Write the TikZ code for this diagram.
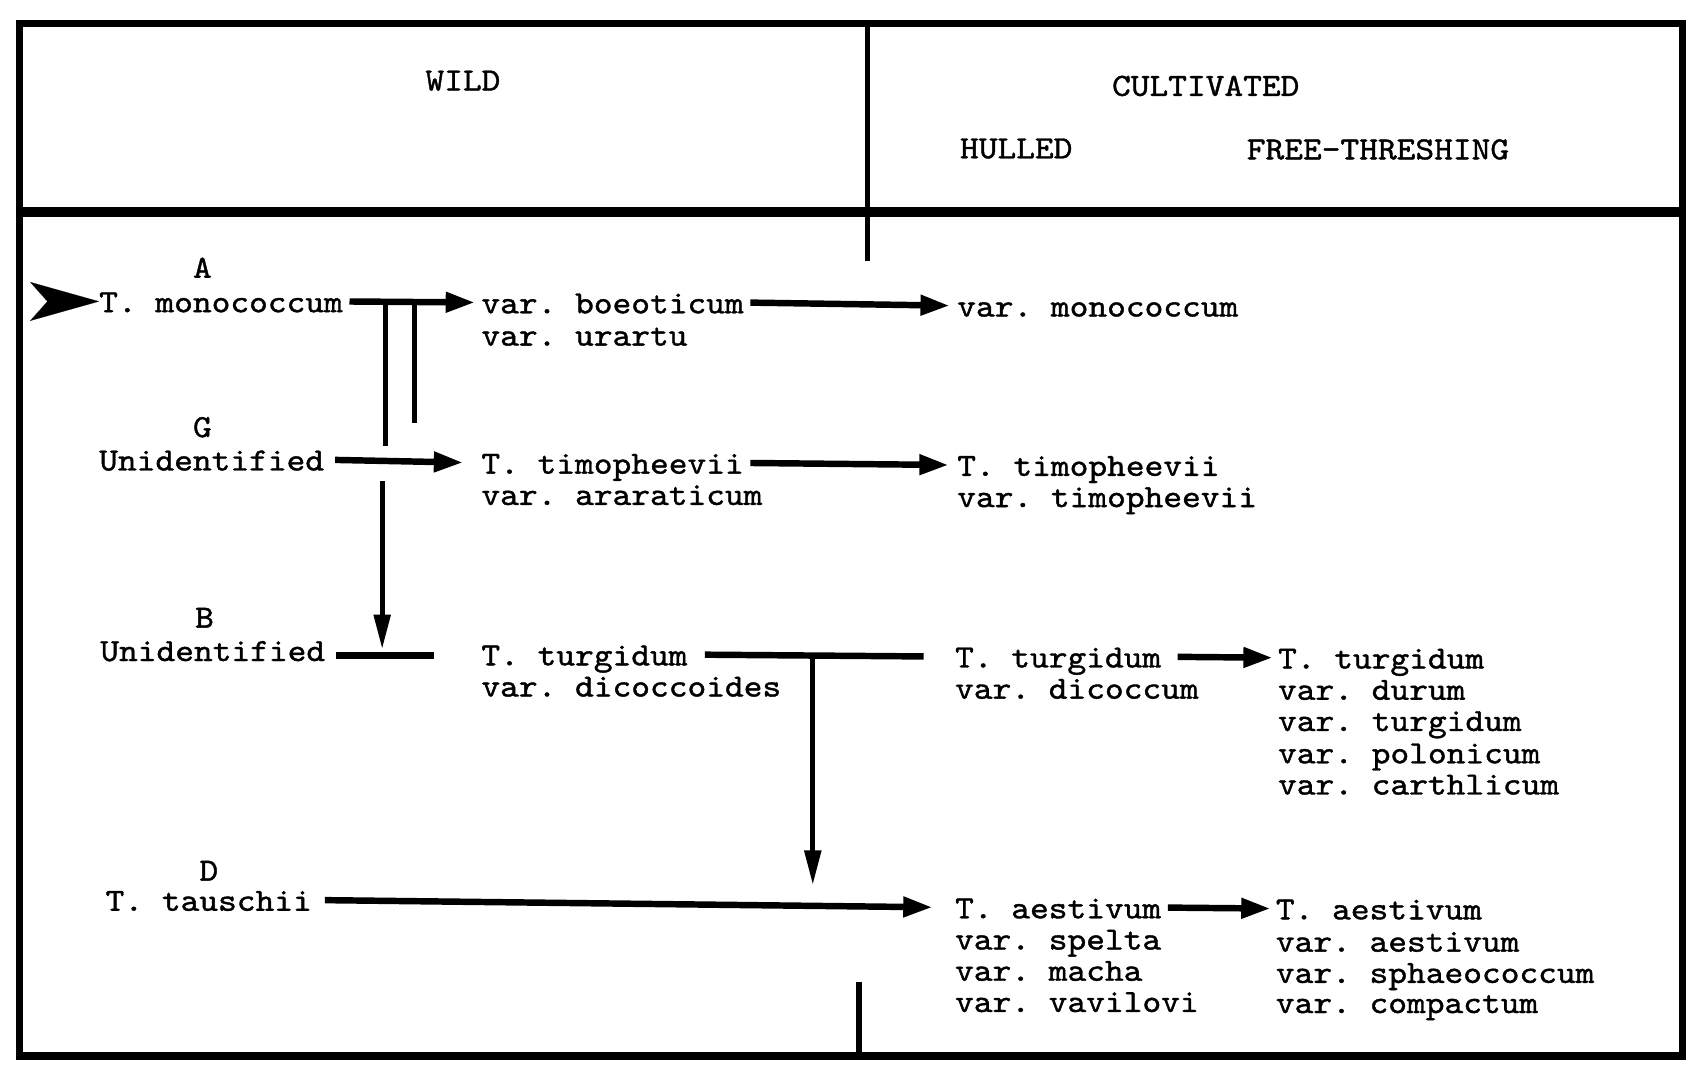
\documentclass[tikz,border=0pt]{standalone}
\usepackage{fontspec}
\usetikzlibrary{arrows.meta}
% typewriter face used for every label
\newfontfamily\twfont{lmmono10-regular.otf}[FakeStretch=1.105,FakeBold=1.2]
\begin{document}
\frenchspacing
\begin{tikzpicture}[x=1pt,y=-1pt,
  tx/.style={font=\twfont\fontsize{30pt}{30pt}\selectfont\frenchspacing, inner sep=0pt,
             text height=20pt, text depth=0pt, anchor=west},
  hd/.style={tx, anchor=center},
  frameline/.style={line width=7pt, line cap=rect},
  divider/.style={line width=5pt},
  arr/.style={line width=6pt, -{Triangle[length=27pt,width=18pt]}},
  bar/.style={line width=6pt},
  hang/.style={line width=5pt},
  varr/.style={line width=4.5pt, -{Triangle[length=32pt,width=15pt]}},
  bigtip/.style={line width=0.1pt, -{Stealth[length=64pt,width=36pt,inset=16pt]}},
]
\useasboundingbox (0,0) rectangle (1568,989);

% ---- table frame ----
\coordinate (tl) at (18,22);
\coordinate (tr) at (1563,22);
\coordinate (bl) at (18,981);
\coordinate (br) at (1563,981);
\draw[frameline] (tl) -- (tr) -- (br) -- (bl) -- cycle;
\draw[line width=9pt] (18,197) -- (1563,197);
\draw[divider] (806,22) -- (806,242);
\draw[divider] (798,912) -- (798,981);

% ---- column headings ----
\node[hd] (wild) at (430,74) {WILD};
\node[hd] (cult) at (1120,79) {CULTIVATED};
\node[hd] (hulled) at (944,137) {HULLED};
\node[hd] (free) at (1280,138) {FREE-THRESHING};

% ---- genome A ----
\node[hd] (gA) at (188,248) {A};
\node[tx] (mono) at (92,280) {T. monococcum};
\node[tx] (boeo) at (447,281) {var. boeoticum};
\node[tx] (urar) at (447,311) {var. urartu};
\node[tx] (monoc) at (889,284) {var. monococcum};

% ---- genome G ----
\node[hd] (gG) at (188,396) {G};
\node[tx] (unidG) at (92,427) {Unidentified};
\node[tx] (timo) at (447,430) {T. timopheevii};
\node[tx] (arar) at (447,459) {var. araraticum};
\node[tx] (timoC) at (889,432) {T. timopheevii};
\node[tx] (timoV) at (889,461) {var. timopheevii};

% ---- genome B ----
\node[hd] (gB) at (190,573) {B};
\node[tx] (unidB) at (93,604) {Unidentified};
\node[tx] (turg) at (447,608) {T. turgidum};
\node[tx] (dicoides) at (447,637) {var. dicoccoides};
\node[tx] (turgC) at (887,610) {T. turgidum};
\node[tx] (dicoccum) at (887,639) {var. dicoccum};
\node[tx] (turgF) at (1187,611) {T. turgidum};
\node[tx] (durum) at (1187,640) {var. durum};
\node[tx] (turgV) at (1187,669) {var. turgidum};
\node[tx] (polon) at (1187,699) {var. polonicum};
\node[tx] (carth) at (1187,728) {var. carthlicum};

% ---- genome D ----
\node[hd] (gD) at (194,808) {D};
\node[tx] (tausch) at (98,836) {T. tauschii};
\node[tx] (aest) at (887,843) {T. aestivum};
\node[tx] (spelta) at (887,872) {var. spelta};
\node[tx] (macha) at (887,901) {var. macha};
\node[tx] (vavil) at (887,930) {var. vavilovi};
\node[tx] (aestF) at (1185,844) {T. aestivum};
\node[tx] (aestV) at (1185,874) {var. aestivum};
\node[tx] (sphaero) at (1185,903) {var. sphaeococcum};
\node[tx] (compact) at (1185,931) {var. compactum};

% ---- entry marker ----
\coordinate (marker) at (44,280);
\draw[bigtip] (marker) -- (mono.west);

% ---- A lineage ----
\draw[arr, shorten <=6pt, shorten >=6pt] (mono.east) -- (boeo.west);
\coordinate (h1a) at (358,281);
\coordinate (h1b) at (358,414);
\coordinate (h2a) at (385,281);
\coordinate (h2b) at (385,393);
\draw[hang] (h1a) -- (h1b);
\draw[hang] (h2a) -- (h2b);
\draw[arr, shorten <=6pt, shorten >=7pt] (boeo.east) -- (monoc.west);

% ---- G lineage ----
\draw[arr, shorten <=10pt, shorten >=17pt] (unidG.east) -- (timo.west);
\draw[arr, shorten <=6pt, shorten >=8pt] (timo.east) -- (timoC.west);
\coordinate (gbTop) at (355,447);
\coordinate (gbEnd) at (355,609);
\draw[varr, shorten >=6pt] (gbTop) -- (gbEnd);

% ---- B lineage ----
\coordinate (bEnd) at (403,609);
\draw[bar, shorten <=10pt] (unidB.east |- bEnd) -- (bEnd);
\draw[bar, shorten <=16pt, shorten >=29pt] (turg.east) -- (turgC.west);
\coordinate (tjTop) at (755,611);
\coordinate (tjEnd) at (755,822);
\draw[varr] (tjTop) -- (tjEnd);
\draw[arr, shorten <=15pt, shorten >=5pt] (turgC.east) -- (turgF.west);

% ---- D lineage ----
\draw[arr, shorten <=12pt, shorten >=21pt] (tausch.east) -- (aest.west);
\draw[arr, shorten <=6pt, shorten >=5pt] (aest.east) -- (aestF.west);
\end{tikzpicture}
\end{document}
